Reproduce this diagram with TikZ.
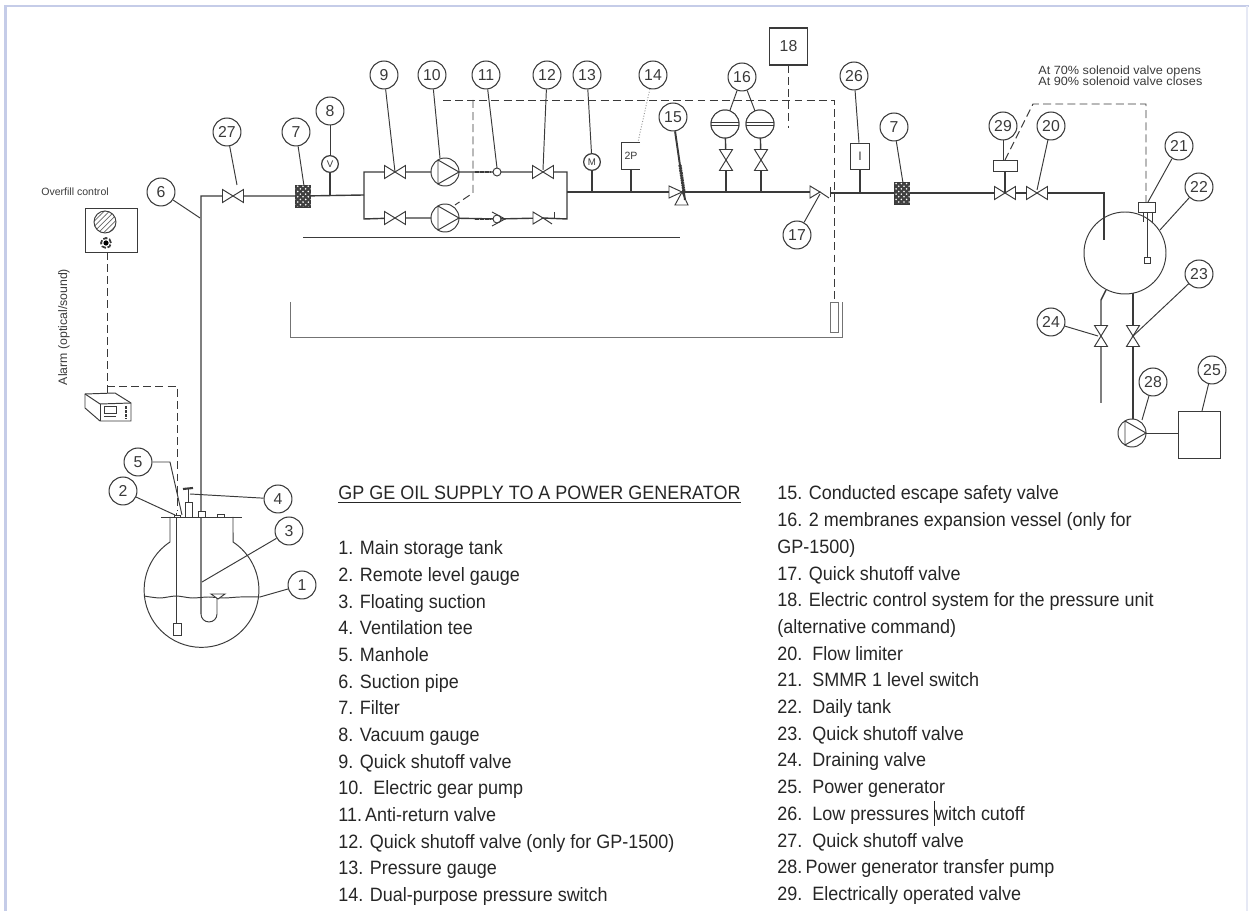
\documentclass[tikz,border=0pt]{standalone}
\usepackage{fontspec}
\setmainfont{Liberation Sans}[FakeStretch=.93]
\newfontfamily\cadfont{Liberation Sans}[FakeStretch=1.06]
\newfontfamily\tagfont{Liberation Sans}
\usetikzlibrary{patterns}
\definecolor{frameblue}{HTML}{C5CCE8}
\definecolor{frameright}{HTML}{E6E9F5}
\definecolor{ink}{HTML}{3A3A3A}
\tikzset{
    pipe/.style={draw=ink, line width=.8pt},
    thinline/.style={draw=ink, line width=.55pt},
    signal/.style={draw=ink, line width=.55pt, dash pattern=on 4.5pt off 2.4pt},
    tag/.style={draw=ink, line width=.6pt, fill=white, circle, minimum size=15.9pt, inner sep=0pt, text=ink, font=\tagfont\fontsize{9}{10}\selectfont},
    item/.style={anchor=base west, inner sep=0pt, text=black!85, font=\fontsize{11}{13}\selectfont},
    cadtext/.style={inner sep=0pt, text=ink},
    valve/.pic={\draw[thinline, fill=white] (-10.5,-6.5) -- (-10.5,6.5) -- (10.5,-6.5) -- (10.5,6.5) -- cycle;},
    pump/.pic={\draw[thinline, fill=white] (0,0) circle (14);
        \draw[thinline] (-7,-12) -- (14,0) -- (-7,12) -- cycle;},
    vessel/.pic={\draw[thinline, fill=white] (0,0) circle (14);
        \draw[thinline] (-14,-1.2) -- (14,-1.2) (-14,1.2) -- (14,1.2);},
    filter/.pic={\draw[ink, fill=black!75, postaction={pattern=crosshatch dots, pattern color=white}] (-7.5,-11) rectangle (7.5,11);},
    gauge/.style={draw=ink, line width=.7pt, fill=white, circle, minimum size=9.5pt, inner sep=0pt, text=ink, font=\tagfont\fontsize{5.5}{6}\selectfont}
}
\begin{document}
\begin{tikzpicture}[x=.02cm, y=.02cm]
        \useasboundingbox (0,0) rectangle (1249,-911);
        \draw[frameblue, line width=1.5pt] (5.5,-911) -- (5.5,-6) -- (1249,-6);
        \draw[frameright, line width=1pt] (1247,-6) -- (1247,-911);
        \coordinate (v27) at (233,-196);
        \coordinate (f7a) at (303,-196);
        \coordinate (v9) at (395,-172);
        \coordinate (v9b) at (395,-218);
        \coordinate (p10) at (445,-172);
        \coordinate (p10b) at (445,-218);
        \coordinate (c11) at (497,-172);
        \coordinate (c11b) at (497,-219);
        \coordinate (v12) at (543,-172);
        \coordinate (v12b) at (543,-218);
        \coordinate (v15) at (682,-192);
        \coordinate (v16a) at (726,-160);
        \coordinate (v16b) at (761,-160);
        \coordinate (e16a) at (725,-124);
        \coordinate (e16b) at (760,-124);
        \coordinate (v17) at (820,-192);
        \coordinate (f7b) at (902,-193);
        \coordinate (v29) at (1005,-193);
        \coordinate (v20) at (1037,-193);
        \coordinate (v23) at (1133,-336);
        \coordinate (v24) at (1101,-336);
        \coordinate (p28) at (1132,-433);
        \draw[pipe] (201,-614) -- (201,-196) -- (v27) -- (f7a) -- (364,-195);
        \draw[pipe] (364,-172) -- (v9) -- (p10) -- (c11) -- (v12) -- (567,-172) -- (567,-219) -- (v12b) -- (c11b) -- (p10b) -- (v9b) -- (364,-219) -- cycle;
        \draw[pipe] (567,-192) -- (v17);
        \draw[pipe] (831,-193) -- (v29) -- (v20) -- (1104,-193) -- (1104,-240);
        \draw[pipe] (v16a) -- (726,-192);
        \draw[pipe] (v16b) -- (761,-192);
        \draw[pipe] (v16a) -- (e16a);
        \draw[pipe] (v16b) -- (e16b);
        \draw[thinline] (303,-237) -- (680,-237);
        \draw[thinline, black!55] (290,-302) -- (290,-337) -- (842,-337) -- (842,-302);
        \draw[signal] (443,-100) -- (834,-100) -- (834,-302);
        \draw[signal] (473,-100) -- (473,-193) -- (455,-205);
        \draw[signal] (788,-65) -- (788,-128);
        \draw[signal] (1005,-160) -- (1033,-104) -- (1146,-104) -- (1146,-202);
        \draw[signal] (107,-252) -- (107,-393);
        \draw[signal] (107,-386) -- (177,-386) -- (177,-510);
        \pic at (v27) {valve};
        \pic at (f7a) {filter};
        \pic at (v9) {valve};
        \pic at (v9b) {valve};
        \pic at (p10) {pump};
        \pic at (p10b) {pump};
        \pic at (v12) {valve};
        \draw[line width=1.4pt, ink, dash pattern=on 1pt off .4pt] (475,-172) -- (491,-172);
        \draw[line width=1.4pt, ink, dash pattern=on 1pt off .4pt] (475,-219) -- (491,-219);
        \draw[thinline, fill=white] (c11) circle (4);
        \draw[thinline, fill=white] (c11b) circle (4);
        \draw[thinline] (492,-212) -- (505,-219) -- (492,-226);
        \draw[thinline, fill=white] (533,-212) -- (533,-224) -- (543,-218) -- cycle;
        \draw[thinline] (543,-218) -- (552,-224);
        \draw[thinline] (554,-212) -- (554,-218);
        \draw[thinline, fill=white] (669,-186) -- (669,-198) -- (v15) -- cycle;
        \draw[thinline, fill=white] (675,-205) -- (688,-205) -- (v15) -- cycle;
        \pic at (v16a) [rotate=90] {valve};
        \pic at (v16b) [rotate=90] {valve};
        \pic at (e16a) {vessel};
        \pic at (e16b) {vessel};
        \draw[thinline, fill=white] (810,-186) -- (810,-198) -- (v17) -- cycle;
        \draw[thinline] (v17) -- (829,-198);
        \draw[thinline] (830,-187) -- (830,-197);
        \draw[thinline, black!55] (830,-302) rectangle (838,-332);
        \pic at (f7b) {filter};
        \pic at (v29) {valve};
        \pic at (v20) {valve};
        \node[gauge] (g8) at (330,-164) {V};
        \node[gauge] (g13) at (592,-162) {M};
        \draw[pipe] (g8) -- (330,-195);
        \draw[pipe] (g13) -- (592,-192);
        \draw[thinline] (640,-142) -- (621,-142) -- (621,-169) -- (640,-169);
        \node[cadtext, font=\tagfont\fontsize{6}{7}\selectfont] (sw14) at (631,-156) {2P};
        \draw[pipe] (631,-169) -- (631,-192);
        \node[draw=ink, line width=.6pt, minimum width=11.3pt, minimum height=15.3pt, inner sep=0pt, text=ink, font=\tagfont\fontsize{7}{8}\selectfont] (sw26) at (860,-156.5) {I};
        \draw[pipe] (sw26) -- (860,-193);
        \node[draw=ink, line width=.7pt, minimum width=22pt, minimum height=21pt, inner sep=0pt, text=ink, font=\tagfont\fontsize{9}{10}\selectfont] (box18) at (788.5,-46.5) {18};
        \draw[thinline] (993,-160) rectangle (1017,-171);
        \draw[pipe] (1005,-171) -- (v29);
        \draw[thinline] (1125,-253) circle (41);
        \draw[thinline, fill=white] (1138,-202) rectangle (1155,-212);
        \draw[thinline] (1143,-212) -- (1143,-222);
        \draw[thinline] (1152,-212) -- (1152,-222);
        \draw[thinline] (1147,-212) -- (1147,-257);
        \draw[thinline] (1144,-257) rectangle (1150,-263);
        \draw[pipe] (1106,-290) -- (1101,-300) -- (v24) -- (1101,-403);
        \draw[pipe] (1133,-293) -- (v23) -- (1133,-419);
        \pic at (v23) [rotate=90] {valve};
        \pic at (v24) [rotate=90] {valve};
        \pic at (p28) {pump};
        \draw[thinline] (1146,-433) -- (1178,-433);
        \draw[thinline] (1178,-411) rectangle (1220,-458);
        \draw[thinline] (85,-208) rectangle (137,-252);
        \draw[thinline, pattern=north east lines, pattern color=black!60] (105,-222) circle (11);
        \fill[black] (106,-243) circle (2.6);
        \draw[ink, line width=1pt, dash pattern=on 2.5pt off 1pt] (106,-243) circle (5);
        \draw[thinline, fill=white] (85,-394) -- (115,-393) -- (131,-403) -- (131,-421) -- (100,-421) -- (85,-408) -- cycle;
        \draw[thinline] (85,-394) -- (100,-404) -- (131,-403);
        \draw[thinline] (100,-404) -- (100,-421);
        \draw[thinline] (104,-406) rectangle (116,-413);
        \draw[thinline] (104,-416) -- (116,-416);
        \draw[ink, line width=1pt, dash pattern=on 1.5pt off .8pt] (126,-406) -- (126,-419);
        \draw[thinline] (161,-517) -- (242,-517);
        \draw[thinline] (170,-517) -- (170,-542) arc[start angle=123.3, end angle=416.7, radius=57.4] -- (233,-517);
        \draw[thinline] plot[smooth] coordinates {(144,-596) (160,-598) (176,-596) (192,-598) (208,-597) (224,-598) (240,-597) (260,-597)};
        \draw[thinline] (176,-513) -- (176,-623);
        \draw[thinline] (173,-623) rectangle (181,-635);
        \draw[thinline] (201,-614) arc[start angle=180, end angle=360, radius=8] -- (217,-597);
        \draw[thinline, fill=white] (211,-594) -- (225,-594) -- (218,-599) -- cycle;
        \draw[thinline] (185,-517) rectangle (192,-502);
        \draw[thinline] (188,-502) -- (188,-489);
        \draw[ink, line width=1.2pt] (183,-489) -- (193,-488);
        \draw[thinline, fill=white] (198,-511) rectangle (205,-517);
        \draw[thinline] (217,-514) rectangle (224,-517);
        \draw[thinline, fill=white] (174,-515) rectangle (180,-517);
        \coordinate (t1) at (260,-597);
        \coordinate (t2) at (175,-515);
        \coordinate (t3) at (202,-582);
        \coordinate (t4) at (190,-494);
        \coordinate (k5) at (170,-462);
        \coordinate (t5) at (182,-515);
        \coordinate (t6) at (200,-218);
        \coordinate (t7a) at (304,-186);
        \coordinate (t7b) at (903,-183);
        \coordinate (t9) at (395,-172);
        \coordinate (t10) at (440,-158);
        \coordinate (t11) at (497,-168);
        \coordinate (t12) at (543,-170);
        \coordinate (t14) at (638,-142);
        \coordinate (t15) at (685,-200);
        \coordinate (t17) at (820,-194);
        \coordinate (t20) at (1037,-190);
        \coordinate (t21) at (1148,-202);
        \coordinate (t22) at (1160,-230);
        \coordinate (t23) at (1132,-337);
        \coordinate (t24) at (1098,-336);
        \coordinate (t25) at (1202,-411);
        \coordinate (t27) at (237,-185);
        \coordinate (t28) at (1142,-420);
        \node[tag] (b1) at (302,-585) {1};
        \node[tag] (b2) at (123,-491) {2};
        \node[tag] (b3) at (289,-531) {3};
        \node[tag] (b4) at (278,-499) {4};
        \node[tag] (b5) at (138,-462) {5};
        \node[tag] (b6) at (161,-192) {6};
        \node[tag] (b7a) at (296,-132) {7};
        \node[tag] (b8) at (330,-111) {8};
        \node[tag] (b9) at (384,-75) {9};
        \node[tag] (b10) at (432,-75) {10};
        \node[tag] (b11) at (486,-75) {11};
        \node[tag] (b12) at (547,-75) {12};
        \node[tag] (b13) at (587,-75) {13};
        \node[tag] (b14) at (653,-75) {14};
        \node[tag] (b15) at (673,-117) {15};
        \node[tag] (b16) at (742,-77) {16};
        \node[tag] (b17) at (797,-235) {17};
        \node[tag] (b20) at (1051,-126) {20};
        \node[tag] (b21) at (1179,-146) {21};
        \node[tag] (b22) at (1199,-187) {22};
        \node[tag] (b23) at (1199,-274) {23};
        \node[tag] (b24) at (1051,-322) {24};
        \node[tag] (b25) at (1212,-370) {25};
        \node[tag] (b26) at (854,-76) {26};
        \node[tag] (b27) at (227,-132) {27};
        \node[tag] (b28) at (1153,-382) {28};
        \node[tag] (b29) at (1003,-126) {29};
        \node[tag] (b7b) at (894,-127) {7};
        \draw[thinline] (b1) -- (t1);
        \draw[thinline] (b2) -- (t2);
        \draw[thinline] (b3) -- (t3);
        \draw[thinline] (b4) -- (t4);
        \draw[thinline] (b5) -- (k5) -- (t5);
        \draw[thinline] (b6) -- (t6);
        \draw[thinline] (b7a) -- (t7a);
        \draw[thinline] (b7b) -- (t7b);
        \draw[thinline] (b8) -- (g8);
        \draw[thinline] (b9) -- (t9);
        \draw[thinline] (b10) -- (t10);
        \draw[thinline] (b11) -- (t11);
        \draw[thinline] (b12) -- (t12);
        \draw[thinline] (b13) -- (g13);
        \draw[thinline, black!40, densely dotted] (b14) -- (t14);
        \draw[ink, line width=1.1pt] (b15) -- (t15);
        \draw[ink, line width=1.8pt, dash pattern=on 1pt off .4pt] (680,-165) -- (684,-192);
        \draw[thinline] (b16) -- (e16a);
        \draw[thinline] (b16) -- (e16b);
        \draw[thinline] (b17) -- (t17);
        \draw[thinline] (b20) -- (t20);
        \draw[thinline] (b21) -- (t21);
        \draw[thinline] (b22) -- (t22);
        \draw[thinline] (b23) -- (t23);
        \draw[thinline] (b24) -- (t24);
        \draw[thinline] (b25) -- (t25);
        \draw[thinline] (b26) -- (sw26);
        \draw[thinline] (b27) -- (t27);
        \draw[thinline] (b28) -- (t28);
        \draw[thinline] (b29) -- (1003,-160);
        \pic at (e16a) {vessel};
        \pic at (e16b) {vessel};
        \node[cadtext, anchor=base west, font=\cadfont\fontsize{6.8}{8}\selectfont] (note70) at (1038,-75) {At 70\% solenoid valve opens};
        \node[cadtext, anchor=base west, font=\cadfont\fontsize{6.8}{8}\selectfont] (note90) at (1038,-86) {At 90\% solenoid valve closes};
        \node[cadtext, anchor=base west, font=\tagfont\fontsize{6}{7}\selectfont] (overfill) at (41,-196) {Overfill control};
        \node[cadtext, rotate=90, font=\tagfont\fontsize{7}{8}\selectfont] (alarm) at (64,-327) {Alarm (optical/sound)};
        \node[item] (title) at (338,-500) {\underline{GP GE OIL SUPPLY TO A POWER GENERATOR}};
        \node[item] (i1) at (338,-555) {1. Main storage tank};
        \node[item] (i2) at (338,-581.6) {2. Remote level gauge};
        \node[item] (i3) at (338,-608.3) {3. Floating suction};
        \node[item] (i4) at (338,-635) {4. Ventilation tee};
        \node[item] (i5) at (338,-661.6) {5. Manhole};
        \node[item] (i6) at (338,-688.3) {6. Suction pipe};
        \node[item] (i7) at (338,-714.9) {7. Filter};
        \node[item] (i8) at (338,-741.6) {8. Vacuum gauge};
        \node[item] (i9) at (338,-768.2) {9. Quick shutoff valve};
        \node[item] (i10) at (338,-794.9) {10.\ \ Electric gear pump};
        \node[item] (i11) at (338,-821.5) {11.\,Anti-return valve};
        \node[item] (i12) at (338,-848.2) {12. Quick shutoff valve (only for GP-1500)};
        \node[item] (i13) at (338,-874.8) {13. Pressure gauge};
        \node[item] (i14) at (338,-901.5) {14. Dual-purpose pressure switch};
        \node[item] (i15) at (777,-500) {15. Conducted escape safety valve};
        \node[item] (i16) at (777,-526.7) {16. 2 membranes expansion vessel (only for};
        \node[item] (i16b) at (777,-553.4) {GP-1500)};
        \node[item] (i17) at (777,-580.1) {17. Quick shutoff valve};
        \node[item] (i18) at (777,-606.8) {18. Electric control system for the pressure unit};
        \node[item] (i18b) at (777,-633.5) {(alternative command)};
        \node[item] (i20) at (777,-660.2) {20.\ \ Flow limiter};
        \node[item] (i21) at (777,-686.9) {21.\ \ SMMR 1 level switch};
        \node[item] (i22) at (777,-713.6) {22.\ \ Daily tank};
        \node[item] (i23) at (777,-740.3) {23.\ \ Quick shutoff valve};
        \node[item] (i24) at (777,-767) {24.\ \ Draining valve};
        \node[item] (i25) at (777,-793.7) {25.\ \ Power generator};
        \node[item] (i26) at (777,-820.4) {26.\ \ Low pressures \rule[-3pt]{.5pt}{14pt}witch cutoff};
        \node[item] (i27) at (777,-847.1) {27.\ \ Quick shutoff valve};
        \node[item] (i28) at (777,-873.8) {28.\,Power generator transfer pump};
        \node[item] (i29) at (777,-900.5) {29.\ \ Electrically operated valve};
    \end{tikzpicture}
\end{document}
